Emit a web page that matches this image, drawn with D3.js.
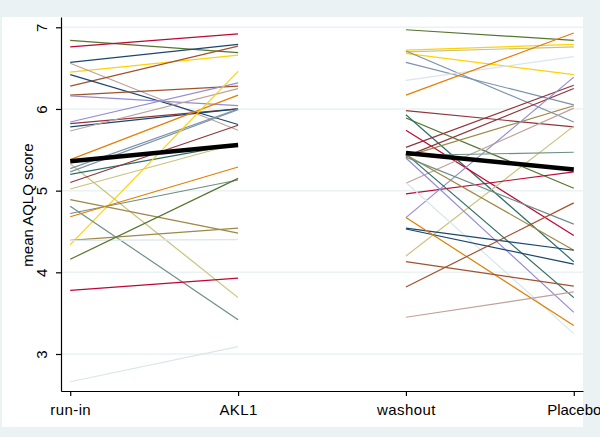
<!DOCTYPE html>
<html lang="en">
<head>
<meta charset="UTF-8">
<title>mean AQLQ score</title>
<script src="https://d3js.org/d3.v7.min.js"></script>
<style>
    body { margin: 0; padding: 0; background: #EAF2F3; }
    svg text { font-family: "Liberation Sans", Arial, sans-serif; fill: #000; }
</style>
</head>
<body>
<svg width="600" height="437"></svg>
<script>
    const categories = ["run-in", "AKL1", "washout", "Placebo"];
    const yTicks = [3, 4, 5, 6, 7];

    // Stata s2color palette
    const palette = {
        navy: "#1a476f", maroon: "#90353b", forest: "#55752f", dkorange: "#e37e00",
        teal: "#6e8e84", cranberry: "#c10534", lavender: "#938dd2", khaki: "#cac27e",
        sienna: "#a0522d", emidblue: "#7b92a8", emerald: "#2d6d66", brown: "#9c8847",
        erose: "#bfa19c", gold: "#ffd200", bluishgray: "#d9e6eb"
    };

    // active period: run-in -> AKL1
    const aklColors = ["forest", "cranberry", "navy", "gold", "erose", "sienna", "navy", "sienna",
        "lavender", "lavender", "maroon", "navy", "erose", "dkorange", "khaki", "emidblue",
        "emidblue", "emerald", "maroon", "khaki", "gold", "brown", "teal", "teal",
        "dkorange", "brown", "bluishgray", "forest", "cranberry", "bluishgray"];
    const runIn = [6.84, 6.76, 6.57, 6.45, 6.56, 6.28, 6.42, 6.17,
        6.16, 5.84, 5.82, 5.78, 5.73, 5.38, 5.33, 5.27,
        5.23, 5.20, 5.10, 5.02, 4.34, 4.89, 4.81, 4.72,
        4.68, 4.39, 4.39, 4.16, 3.78, 2.66];
    const akl1 = [6.69, 6.92, 6.79, 6.66, 5.74, 6.77, 5.81, 6.28,
        6.04, 6.32, 6.00, 6.00, 6.25, 6.17, 3.69, 6.00,
        5.99, 5.57, 5.80, 5.58, 6.46, 4.48, 3.42, 5.13,
        5.29, 4.54, 4.40, 5.15, 3.93, 3.09];

    // placebo period: washout -> Placebo
    const placeboColors = ["forest", "gold", "khaki", "gold", "emidblue", "emidblue", "bluishgray",
        "dkorange", "maroon", "forest", "emerald", "cranberry", "maroon", "maroon", "brown",
        "erose", "khaki", "teal", "cranberry", "lavender", "bluishgray", "lavender", "emerald",
        "brown", "teal", "navy", "navy", "dkorange", "sienna", "sienna", "erose"];
    const washout = [6.97, 6.72, 6.70, 6.68, 6.71, 6.57, 6.35,
        6.17, 5.98, 5.89, 5.93, 5.74, 5.53, 5.42, 5.42,
        5.09, 4.20, 5.43, 4.96, 4.67, 5.10, 5.40, 5.45,
        5.44, 5.41, 4.54, 4.53, 4.67, 4.13, 3.82, 3.45];
    const placebo = [6.84, 6.79, 6.76, 6.42, 5.84, 6.05, 6.64,
        6.93, 5.78, 5.03, 4.13, 4.45, 6.29, 6.25, 6.04,
        6.01, 5.79, 5.47, 5.23, 6.39, 3.25, 3.51, 3.69,
        4.27, 4.59, 4.27, 4.10, 3.35, 3.83, 4.85, 3.76];

    const meanAkl = [5.36, 5.56];
    const meanPlacebo = [5.46, 5.26];

    const svg = d3.select("svg");

    // white inner region
    svg.append("rect")
        .attr("x", 2).attr("y", 17)
        .attr("width", 581).attr("height", 410)
        .attr("fill", "#fff");

    const x = d3.scalePoint().domain(categories).range([61, 583]).padding(0.055);
    const y = d3.scaleLinear().domain([2.547, 7.126]).range([391, 17]);

    // grid
    svg.append("g")
        .selectAll("line")
        .data(yTicks)
        .enter().append("line")
        .attr("x1", 61).attr("x2", 583)
        .attr("y1", d => y(d)).attr("y2", d => y(d))
        .attr("stroke", "#EAF2F3")
        .attr("stroke-width", 1.5);

    // build segments
    const segments = [];
    runIn.forEach((v, i) => segments.push({ a: "run-in", b: "AKL1", v0: v, v1: akl1[i], c: palette[aklColors[i]] }));
    washout.forEach((v, i) => segments.push({ a: "washout", b: "Placebo", v0: v, v1: placebo[i], c: palette[placeboColors[i]] }));

    svg.append("g")
        .selectAll("line")
        .data(segments)
        .enter().append("line")
        .attr("x1", d => x(d.a)).attr("y1", d => y(d.v0))
        .attr("x2", d => x(d.b)).attr("y2", d => y(d.v1))
        .attr("stroke", d => d.c)
        .attr("stroke-width", 1.2);

    // mean lines
    const means = [
        { a: "run-in", b: "AKL1", v0: meanAkl[0], v1: meanAkl[1] },
        { a: "washout", b: "Placebo", v0: meanPlacebo[0], v1: meanPlacebo[1] }
    ];
    svg.append("g")
        .selectAll("line")
        .data(means)
        .enter().append("line")
        .attr("x1", d => x(d.a)).attr("y1", d => y(d.v0))
        .attr("x2", d => x(d.b)).attr("y2", d => y(d.v1))
        .attr("stroke", "#000")
        .attr("stroke-width", 4.5);

    // axes
    const yAxis = svg.append("g")
        .attr("transform", "translate(61,0)")
        .call(d3.axisLeft(y).tickValues(yTicks).tickFormat(d3.format("d")).tickSize(5).tickSizeOuter(0));
    yAxis.selectAll("text")
        .attr("transform", "rotate(-90)")
        .attr("x", 0).attr("y", -14).attr("dy", 0)
        .attr("text-anchor", "middle")
        .style("font-size", "15px");

    const xAxis = svg.append("g")
        .attr("transform", "translate(0,391)")
        .call(d3.axisBottom(x).tickSize(5).tickSizeOuter(0));
    xAxis.selectAll("text")
        .attr("y", 24).attr("dy", 0)
        .style("font-size", "15px")
        .style("letter-spacing", d => d === "Placebo" ? "0px" : "0.4px");

    svg.selectAll(".domain, .tick line").attr("stroke", "#000").attr("stroke-width", 1.2);

    svg.append("text")
        .attr("transform", "translate(33,205) rotate(-90)")
        .attr("text-anchor", "middle")
        .style("font-size", "15px")
        .text("mean AQLQ score");
</script>
</body>
</html>
